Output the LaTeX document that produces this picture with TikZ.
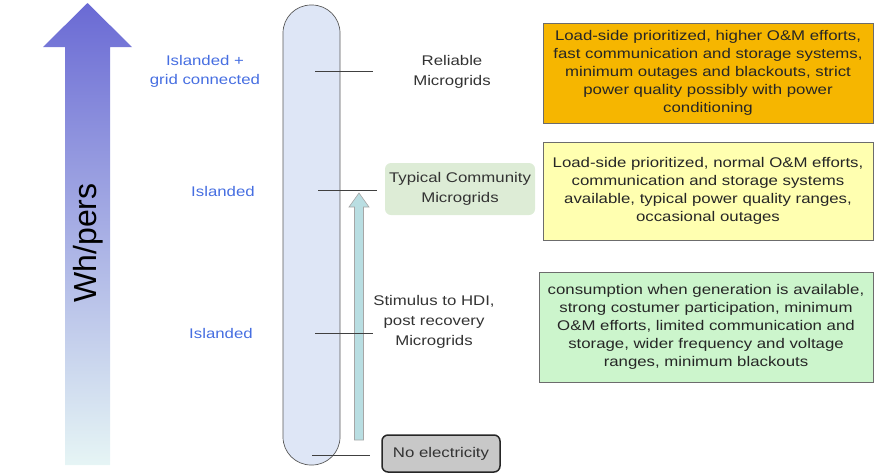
\documentclass[tikz,border=0pt]{standalone}
\usepackage{fontspec}
\setmainfont[FakeStretch=1.2]{Liberation Sans}
\newfontfamily\whfont{Liberation Sans}
\definecolor{arrowtop}{RGB}{106,106,212}
\definecolor{arrowmid}{RGB}{160,166,222}
\definecolor{arrowbot}{RGB}{230,245,245}
\definecolor{capsfill}{RGB}{222,230,246}
\definecolor{teal1}{RGB}{185,222,226}
\definecolor{bluetxt}{RGB}{70,110,225}
\definecolor{orangefill}{RGB}{246,182,0}
\definecolor{yellowfill}{RGB}{255,255,176}
\definecolor{greenfill}{RGB}{204,245,204}
\definecolor{typfill}{RGB}{221,236,214}
\definecolor{greyfill}{RGB}{200,200,200}
\begin{document}
\begin{tikzpicture}[x=1pt,y=-1pt,
  txt/.style={font=\fontsize{14}{18}\selectfont, align=center, text=black!85},
  bluelab/.style={font=\fontsize{14}{19}\selectfont, align=center, text=bluetxt},
  midlab/.style={font=\fontsize{14}{20}\selectfont, align=center, text=black!80},
  info/.style={txt, draw=gray!85!black, line width=0.8pt, minimum width=330pt, inner sep=0pt},
  tick/.style={draw=black!75, line width=0.6pt}]
\useasboundingbox (0,0) rectangle (875,475);

% big gradient arrow
\shade[top color=arrowtop, middle color=arrowmid, bottom color=arrowbot]
  (65,465) -- (65,47) -- (43,47) -- (87.5,3) -- (132,47) -- (110,47) -- (110,465) -- cycle;
\node[rotate=90, font=\whfont\fontsize{32}{32}\selectfont] (wh) at (88,243) {Wh/pers};

% blue labels
\node[bluelab] (b1) at (205,71.5) {Islanded +\\grid connected};
\node[bluelab] (b2) at (223,191) {Islanded};
\node[bluelab] (b3) at (221,333) {Islanded};

% capsule
\node[draw=gray!70!black, fill=capsfill, rounded corners=28pt, line width=0.7pt,
  minimum width=57pt, minimum height=460pt, inner sep=0pt] (caps) at (311.5,235) {};

% teal arrow
\draw[draw=gray!70, fill=teal1, line width=0.6pt]
  (354.5,440) -- (354.5,207) -- (349,207) -- (359,193) -- (369,207) -- (363.5,207) -- (363.5,440) -- cycle;

% tick marks
\coordinate (t1a) at (315,71);  \coordinate (t1b) at (373,71);
\coordinate (t2a) at (318,190); \coordinate (t2b) at (377,190);
\coordinate (t3a) at (315,333); \coordinate (t3b) at (373,333);
\coordinate (t4a) at (312,455); \coordinate (t4b) at (370,455);
\draw[tick] (t1a) -- (t1b);
\draw[tick] (t2a) -- (t2b);
\draw[tick] (t3a) -- (t3b);
\draw[tick] (t4a) -- (t4b);

% middle labels
\node[midlab] (rel) at (452,72) {Reliable\\Microgrids};
\node[midlab, fill=typfill, rounded corners=6pt, minimum width=150pt, minimum height=52pt, inner sep=0pt] (typ) at (460,189) {Typical Community\\Microgrids};
\node[midlab] (stim) at (434,322) {Stimulus to HDI,\\post recovery\\Microgrids};
\node[midlab, fill=greyfill, draw=black!85, line width=1.5pt, rounded corners=6pt, minimum width=118pt, minimum height=37pt, inner sep=0pt] (noel) at (441,453.5) {No electricity};

% right info boxes
\node[info, fill=orangefill, minimum height=100pt] (o) at (708,73) {Load-side prioritized, higher O\&M efforts,\\fast communication and storage systems,\\minimum outages and blackouts, strict\\power quality possibly with power\\conditioning};
\node[info, fill=yellowfill, minimum height=98pt] (y) at (708,191) {Load-side prioritized, normal O\&M efforts,\\communication and storage systems\\available, typical power quality ranges,\\occasional outages};
\node[info, fill=greenfill, minimum width=334pt, minimum height=110pt] (g) at (706,327) {consumption when generation is available,\\strong costumer participation, minimum\\O\&M efforts, limited communication and\\storage, wider frequency and voltage\\ranges, minimum blackouts};
\end{tikzpicture}
\end{document}
